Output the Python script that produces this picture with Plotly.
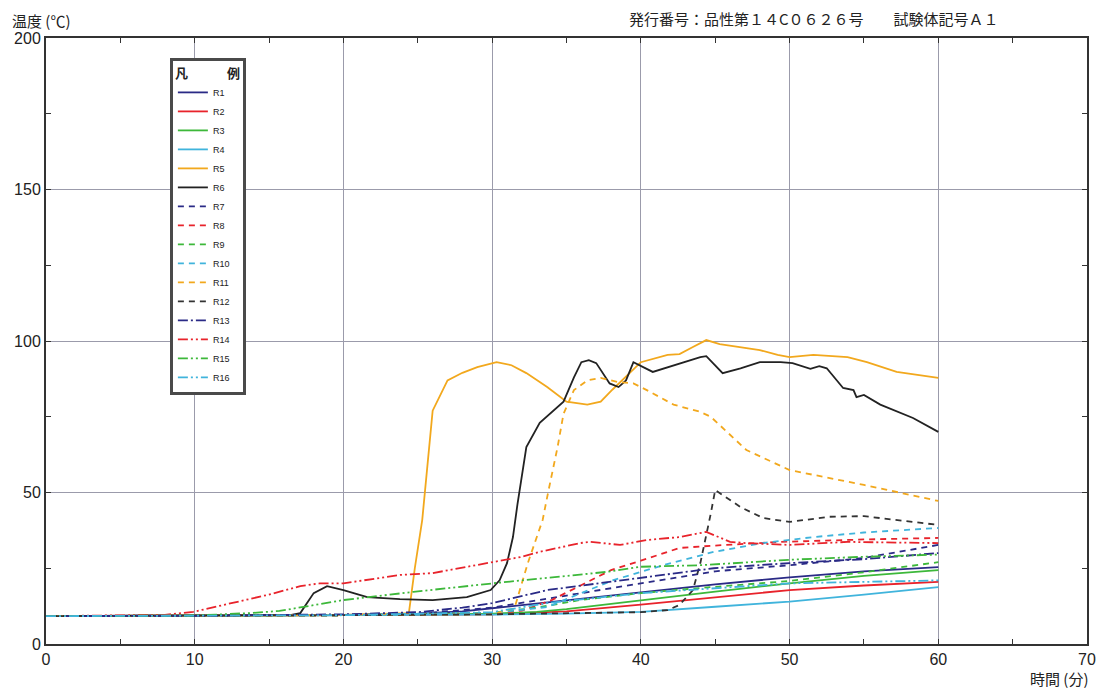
import plotly.graph_objects as go

# ---- data (time in minutes, temperature in °C) ----
R1_T = [0, 10, 20, 25, 28, 30, 35, 40, 45, 50, 55, 60]
R1_V = [9.2, 9.3, 9.6, 10.0, 10.8, 11.8, 14.5, 17.2, 19.7, 22.0, 24.0, 25.4]
R2_T = [0, 10, 20, 30, 35, 40, 45, 50, 55, 60]
R2_V = [9.2, 9.3, 9.5, 9.8, 10.8, 13.0, 15.5, 17.8, 19.3, 20.5]
R3_T = [0, 10, 20, 30, 33, 35, 40, 45, 50, 55, 60]
R3_V = [9.2, 9.3, 9.5, 10.0, 10.6, 11.5, 14.5, 17.3, 20.0, 22.5, 24.4]
R4_T = [0, 10, 20, 30, 35, 40, 45, 50, 55, 60]
R4_V = [9.2, 9.3, 9.4, 9.7, 10.0, 10.6, 12.3, 14.0, 16.3, 18.8]
R5_T = [0, 10, 20, 24.4, 24.8, 25.3, 25.5, 26.0, 27.0, 28.0, 29.0, 30.3, 31.3, 32.3, 33.7,
        35.0, 36.4, 37.3, 38.1, 39.5, 40.0, 41.8, 42.6, 43.5, 44.4, 45.3, 46.5, 48.0,
        49.2, 50.0, 51.6, 53.9, 55.2, 57.2, 60]
R5_V = [9.2, 9.4, 9.6, 10.2, 25, 41, 52, 77, 87, 89.5, 91.4, 93, 92, 89.4, 84.8,
        80, 79, 80, 84, 90.4, 93, 95.4, 95.7, 98, 100.3, 99, 98, 97,
        95.4, 94.7, 95.4, 94.7, 93, 89.8, 87.8]
R6_T = [0, 10, 16.5, 17.1, 18.0, 18.9, 20.0, 21.6, 23.8, 26.0, 28.3, 29.9, 30.5, 31.0,
        31.4, 31.7, 32.3, 33.2, 34.1, 34.8, 35.5, 36.0, 36.5, 37.0, 37.9, 38.5, 39.0,
        39.5, 40.8, 42.2, 44.0, 44.4, 45.5, 46.7, 48.0, 49.4, 50.2, 51.4, 52.0, 52.5,
        53.6, 54.3, 54.5, 55.0, 56.1, 58.3, 60]
R6_V = [9.2, 9.4, 9.6, 10.2, 16.8, 19.1, 17.8, 15.5, 14.8, 14.5, 15.5, 17.8, 21, 26.7,
        35.3, 46, 65, 73, 77, 80, 88, 93, 93.7, 92.7, 86, 84.8, 87,
        93, 89.8, 92, 94.7, 95, 89.4, 91, 93, 93, 92.7, 90.8, 91.7, 91,
        84.5, 83.8, 81.5, 82.2, 79, 74.6, 70]
R7_T = [0, 10, 20, 25, 30, 35, 40, 45, 50, 55, 60]
R7_V = [9.2, 9.3, 9.6, 10.0, 12.0, 16.0, 20.0, 24.0, 26.0, 28.4, 32.7]
R8_T = [0, 10, 20, 30, 32, 34, 36, 38, 40, 42.6, 45, 49.4, 55, 60]
R8_V = [9.2, 9.3, 9.5, 10.0, 11, 14.5, 19.5, 24.4, 27.5, 31.7, 32.5, 33.7, 34.5, 35]
R9_T = [0, 10, 20, 30, 33, 35.9, 40, 44, 50, 55.2, 60]
R9_V = [9.2, 9.3, 9.5, 10.3, 12, 14.5, 16.8, 18.5, 20.8, 23.8, 27]
R10_T = [0, 10, 20, 30, 33.7, 38.1, 41.5, 44.9, 48.2, 51.6, 55, 60]
R10_V = [9.2, 9.3, 9.5, 10.2, 12.2, 21, 26, 30.4, 33.3, 35.3, 36.8, 38.3]
R11_T = [0, 10, 20, 30, 31.5, 32.4, 33.4, 33.7, 34.4, 34.8, 35.5, 36.4, 37.3, 38.4,
         39.5, 40.4, 42.2, 44.0, 44.7, 47.1, 50, 55, 60]
R11_V = [9.2, 9.3, 9.5, 9.8, 11.8, 26.7, 41, 48.5, 65, 76, 83.8, 87, 87.8, 86.5,
         86, 83.8, 79, 76.6, 75, 64, 57.4, 52.5, 47.2]
R12_T = [0, 10, 20, 30, 38, 40, 41.8, 42.6, 43.5, 44.0, 44.7, 45.0, 46.7, 48.2, 50,
         52.7, 55, 57.2, 60]
R12_V = [9.2, 9.3, 9.5, 9.8, 10.2, 10.5, 11.2, 12.9, 17.8, 26.7, 43, 50.8, 45.2, 41.6,
         40.3, 42, 42.2, 41, 39.3]
R13_T = [0, 10, 20, 25, 28, 30, 33.7, 40, 44.9, 50, 55, 60]
R13_V = [9.2, 9.3, 9.8, 10.5, 12, 13.5, 17.8, 21.8, 25, 26.7, 28, 30]
R14_T = [0, 5, 8, 9.9, 12.6, 14.9, 17.1, 18.4, 20, 23.8, 26, 28.3, 30.5, 31.9, 33.2,
         34.4, 35.9, 36.6, 38.6, 40.4, 42.6, 44.4, 46, 47.1, 50, 53.9, 60]
R14_V = [9.2, 9.3, 9.6, 10.6, 13.5, 16.2, 19.1, 20, 20, 22.8, 23.4, 25.4, 27.4, 28.7,
         30.4, 31.7, 33.3, 33.7, 32.7, 34.3, 35.3, 37, 33.7, 33.3, 32.7, 33.7, 33.3]
R15_T = [0, 10, 13.7, 15.7, 20, 24.7, 30, 37.7, 40, 44, 50, 55, 60]
R15_V = [9.2, 9.4, 10.2, 10.9, 14.5, 17.2, 20, 23.8, 25.5, 26, 27.8, 28.8, 29.5]
R16_T = [0, 10, 20, 30, 33.7, 40, 45, 50, 55, 60]
R16_V = [9.2, 9.3, 9.5, 10.5, 13.5, 16.8, 18.5, 20, 20.5, 21]

SERIES = [
    ("R1", R1_T, R1_V), ("R2", R2_T, R2_V), ("R3", R3_T, R3_V), ("R4", R4_T, R4_V),
    ("R5", R5_T, R5_V), ("R6", R6_T, R6_V), ("R7", R7_T, R7_V), ("R8", R8_T, R8_V),
    ("R9", R9_T, R9_V), ("R10", R10_T, R10_V), ("R11", R11_T, R11_V), ("R12", R12_T, R12_V),
    ("R13", R13_T, R13_V), ("R14", R14_T, R14_V), ("R15", R15_T, R15_V), ("R16", R16_T, R16_V),
]

NAVY, RED, GREEN, CYAN, ORANGE, BLACK = "#2a2a86", "#e8232b", "#3db83a", "#40b4dc", "#f2a81d", "#222222"
DASH = "6px,5px"
DASHDOT = "10px,3px,2px,3px"
DASHDOTDOT = "10px,3px,2px,3px,2px,3px"
STYLES = {
    "R1": (NAVY, "solid"), "R2": (RED, "solid"), "R3": (GREEN, "solid"), "R4": (CYAN, "solid"),
    "R5": (ORANGE, "solid"), "R6": (BLACK, "solid"),
    "R7": (NAVY, DASH), "R8": (RED, DASH), "R9": (GREEN, DASH), "R10": (CYAN, DASH),
    "R11": (ORANGE, DASH), "R12": ("#333333", DASH),
    "R13": (NAVY, DASHDOT), "R14": (RED, DASHDOTDOT), "R15": (GREEN, DASHDOTDOT), "R16": (CYAN, DASHDOTDOT),
}

fig = go.Figure()
for name, t, v in SERIES:
    col, dash = STYLES[name]
    fig.add_trace(go.Scatter(x=t, y=v, mode="lines", name=name,
                             line=dict(color=col, dash=dash, width=1.8)))

TICKFONT = dict(family="Liberation Sans Narrow, Arial Narrow, Liberation Sans, sans-serif",
                size=16, color="#222")
GRID = "#9b9bab"

fig.update_layout(
    width=1099, height=689,
    margin=dict(l=46, r=12, t=38, b=45, autoexpand=False),
    paper_bgcolor="white", plot_bgcolor="white",
    showlegend=True,
    legend=dict(
        x=0.119, y=0.967, xanchor="left", yanchor="top",
        bgcolor="white", bordercolor="#4a4a4a", borderwidth=3,
        font=dict(family="Liberation Sans Narrow, Arial Narrow, sans-serif", size=9, color="#222"),
        title=dict(text="<b>凡　　　例</b>",
                   font=dict(family="Noto Sans CJK JP", size=13, color="#222")),
        itemclick=False, itemdoubleclick=False,
    ),
    xaxis=dict(
        range=[0, 70], dtick=10, tick0=0, showgrid=True, gridcolor=GRID, gridwidth=1.3,
        showline=True, linecolor="#333", linewidth=2, mirror="ticks",
        ticks="inside", ticklen=5, tickcolor="#333", automargin=False,
        minor=dict(dtick=5, ticks="inside", ticklen=5, tickcolor="#333", showgrid=False),
        tickfont=TICKFONT, zeroline=False, fixedrange=True,
    ),
    yaxis=dict(
        range=[0, 200], dtick=50, tick0=0, showgrid=True, gridcolor=GRID, gridwidth=1.3,
        showline=True, linecolor="#333", linewidth=2, mirror="ticks",
        ticks="inside", ticklen=5, tickcolor="#333", automargin=False,
        minor=dict(dtick=25, ticks="inside", ticklen=5, tickcolor="#333", showgrid=False),
        tickfont=TICKFONT, zeroline=False, fixedrange=True,
    ),
    annotations=[
        dict(text="温度 (℃)", xref="paper", yref="paper", x=-0.035, y=1.0, yshift=18,
             xanchor="left", yanchor="middle", showarrow=False,
             font=dict(family="Noto Sans CJK JP", size=15, color="#222")),
        dict(text="時間 (分)", xref="paper", yref="paper", x=1.0, y=0, yshift=-34, xshift=4,
             xanchor="right", yanchor="middle", showarrow=False,
             font=dict(family="Noto Sans CJK JP", size=15, color="#222")),
        dict(text="発行番号：品性第１４C０６２６号　　試験体記号Ａ１", xref="paper", yref="paper",
             x=0.558, y=1.0, yshift=20, xanchor="left", yanchor="middle", showarrow=False,
             font=dict(family="Noto Sans CJK JP", size=15, color="#222")),
    ],
)

fig.write_html("out.html")
